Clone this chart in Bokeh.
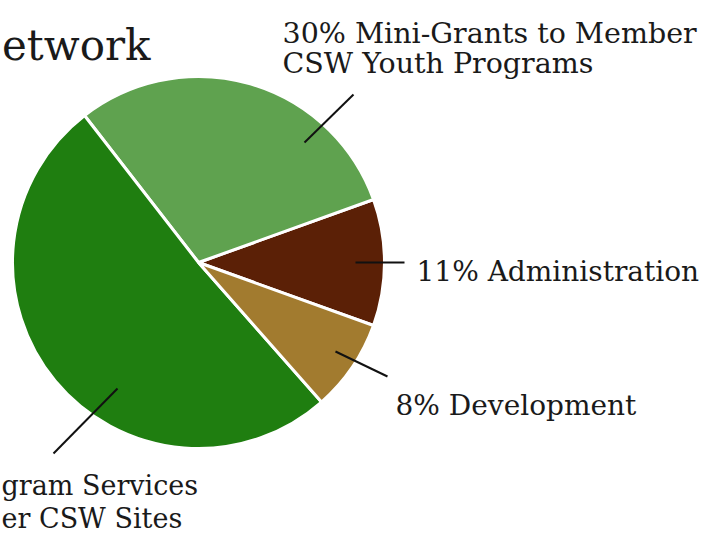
import numpy as np
from bokeh.plotting import figure
from bokeh.models import Range1d, ColumnDataSource
from bokeh.core.properties import value
from bokeh.embed import file_html
from bokeh.resources import INLINE

# ---- data ----
categories = ["Administration", "Mini-Grants to Member CSW Youth Programs",
              "Program Services to Member CSW Sites", "Development"]
shares = [11, 30, 51, 8]
colors = ["#5b2006", "#5fa24f", "#1f7e10", "#a27b2f"]
title_text = "etwork"
label_lines = [["11% Administration"],
               ["30% Mini-Grants to Member", "CSW Youth Programs"],
               ["gram Services", "er CSW Sites"],
               ["8% Development"]]

# ---- layout (pixel coordinates, top-left origin) ----
W, H = 707, 533
def fx(x): return x
def fy(y): return H - y

center = (198, 262)
radius = 186
leaders = [(355, 262, 404, 262),
           (304, 142, 353, 94),
           (117, 388, 53, 453),
           (335, 351, 387, 376)]
# (x, first baseline, line step, font size)
label_pos = [(416, 271, 30, "28px"),
             (282, 33, 30, "28.5px"),
             (1, 485, 33, "27px"),
             (395, 405, 30, "28px")]

p = figure(width=W, height=H, output_backend="svg", toolbar_location=None,
           x_range=Range1d(0, W), y_range=Range1d(0, H),
           x_axis_type=None, y_axis_type=None, min_border=0)
p.grid.visible = False
p.outline_line_color = None
p.background_fill_color = "white"
p.border_fill_color = "white"

frac = np.array(shares, dtype=float) / sum(shares)
ang = 2 * np.pi * frac
start0 = -ang[0] / 2
starts = start0 + np.concatenate([[0], np.cumsum(ang)[:-1]])
ends = starts + ang

src = ColumnDataSource(dict(cat=categories, start=starts, end=ends, color=colors))
p.wedge(x=fx(center[0]), y=fy(center[1]), radius=radius,
        start_angle="start", end_angle="end", fill_color="color",
        line_color="white", line_width=3, source=src)

for (x0, y0, x1, y1) in leaders:
    p.line([fx(x0), fx(x1)], [fy(y0), fy(y1)], line_color="#111111", line_width=2)

font = value("DejaVu Serif")
for lines, (lx, ly, step, fs) in zip(label_lines, label_pos):
    for i, t in enumerate(lines):
        p.text(x=[fx(lx)], y=[fy(ly + i * step)], text=[t], text_font=font,
               text_font_size=fs, text_color="#1a1a1a",
               text_align="left", text_baseline="alphabetic")

p.text(x=[fx(150)], y=[fy(45)], text=[title_text], text_font=font,
       text_font_size="42px", text_color="#1a1a1a",
       text_align="right", text_baseline="alphabetic")

open("out.html", "w").write(file_html(p, INLINE))
